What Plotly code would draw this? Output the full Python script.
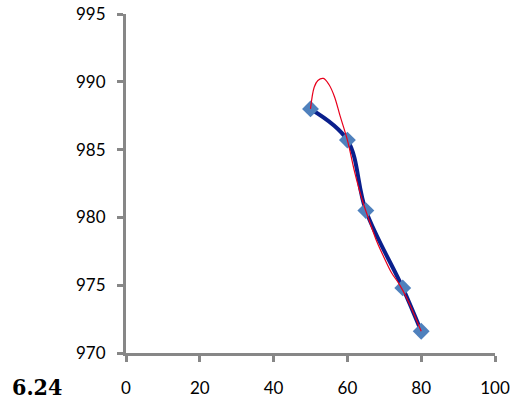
import plotly.graph_objects as go

# Data points
x_vals = [50, 60, 65, 75, 80]
y_vals = [988.0, 985.7, 980.5, 974.8, 971.6]

# Red trend curve
trend_x = [50, 51, 52, 53.5, 55, 56.5, 58, 60, 62, 64, 66, 68, 70, 72, 74, 76, 78, 80]
trend_y = [988.0, 989.6, 990.1, 990.25, 989.8, 988.9, 987.5, 985.7, 983.3, 981.3,
           979.7, 978.2, 977.0, 975.9, 975.1, 974.1, 972.9, 971.6]

x_ticks = [0, 20, 40, 60, 80, 100]
y_ticks = [970, 975, 980, 985, 990, 995]

fig = go.Figure()
fig.add_trace(go.Scatter(
    x=x_vals, y=y_vals, mode="lines+markers",
    line=dict(color="#0A1F8C", width=4, shape="spline", smoothing=1),
    marker=dict(symbol="diamond", size=13, color="#4F81BD"),
    showlegend=False, cliponaxis=False,
))
fig.add_trace(go.Scatter(
    x=trend_x, y=trend_y, mode="lines",
    line=dict(color="#E8001C", width=1.2, shape="spline", smoothing=1),
    showlegend=False,
))

axis_common = dict(
    showline=True, linecolor="#878787", linewidth=3,
    ticks="outside", ticklen=6, tickwidth=3, tickcolor="#878787",
    showgrid=False, zeroline=False, automargin=False,
    tickfont=dict(family="Lato, Open Sans, sans-serif", size=17, color="#000000"),
)

fig.update_xaxes(range=[0, 100], tickvals=x_ticks, ticklabelstandoff=12, **axis_common)
fig.update_yaxes(range=[970, 995], tickvals=y_ticks, ticklabelstandoff=8, **axis_common)

fig.add_annotation(
    text="<b>6.24</b>", xref="paper", yref="paper",
    x=-0.242, y=-0.099, xanchor="center", yanchor="middle",
    showarrow=False,
    font=dict(family="DejaVu Serif Condensed, DejaVu Serif, serif", size=23, color="#000000"),
)

fig.update_layout(
    width=512, height=402,
    margin=dict(l=126, r=17, t=14, b=49, autoexpand=False),
    plot_bgcolor="white", paper_bgcolor="white",
)

fig.write_html("out.html", config={"displayModeBar": False},
               post_script="document.body.style.margin='0';")
